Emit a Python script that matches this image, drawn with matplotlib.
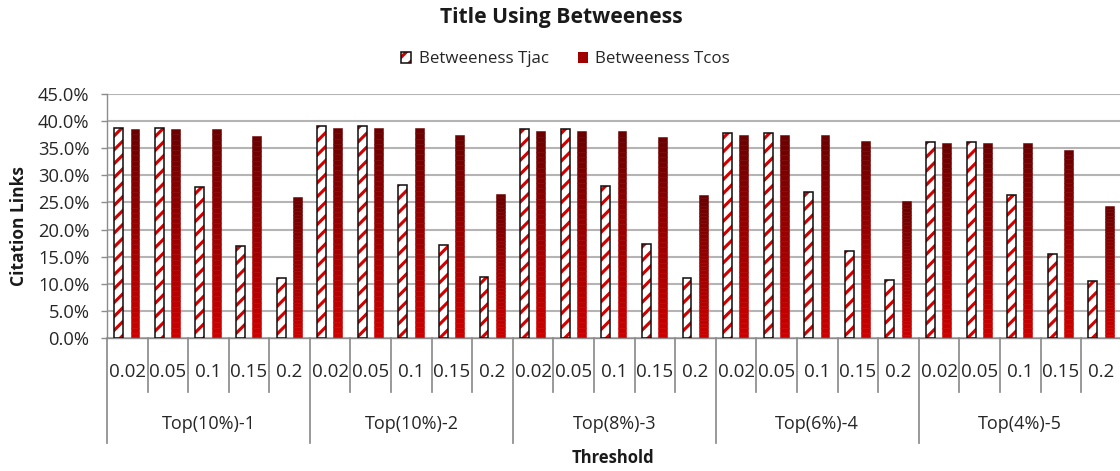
import numpy as np
import matplotlib
matplotlib.use("Agg")
import matplotlib.pyplot as plt
from matplotlib.colors import LinearSegmentedColormap
from matplotlib.patches import Patch
from matplotlib.legend_handler import HandlerTuple
from matplotlib.ticker import PercentFormatter

plt.rcParams['font.family'] = ['Open Sans', 'DejaVu Sans']
plt.rcParams['hatch.linewidth'] = 1.8

groups = ["Top(10%)-1", "Top(10%)-2", "Top(8%)-3", "Top(6%)-4", "Top(4%)-5"]
thresholds = ["0.02", "0.05", "0.1", "0.15", "0.2"]

# percent of citation links, one row per group, one column per threshold
tjac = [
    [38.7, 38.7, 27.9, 16.9, 11.1],
    [39.1, 39.1, 28.3, 17.2, 11.2],
    [38.5, 38.5, 28.1, 17.3, 11.1],
    [37.9, 37.9, 27.0, 16.0, 10.7],
    [36.1, 36.1, 26.4, 15.5, 10.6],
]
tcos = [
    [38.5, 38.5, 38.5, 37.3, 26.0],
    [38.7, 38.7, 38.7, 37.5, 26.6],
    [38.1, 38.1, 38.1, 37.1, 26.4],
    [37.5, 37.5, 37.5, 36.4, 25.2],
    [35.9, 35.9, 35.9, 34.7, 24.4],
]

jac_vals = np.array(tjac).ravel()
cos_vals = np.array(tcos).ravel()
n = len(jac_vals)
x = np.arange(n)

fig = plt.figure(figsize=(8.96, 3.768), dpi=125)
ax = fig.add_axes([0.0955, 0.2824, 0.906, 0.518])

w = 0.22
red = '#d40000'
# hatched Tjac bars: red stripes, black outline drawn on top
ax.bar(x + 0.29, jac_vals, w, color='white', edgecolor=red, hatch='///',
       linewidth=0, zorder=2)
ax.bar(x + 0.29, jac_vals, w, color='none', edgecolor='#111111',
       linewidth=0.9, zorder=3)

# Tcos bars: each bar is stacked from thin slices, dark at the top, bright at the base
cmap = LinearSegmentedColormap.from_list('tcos', ['#cc0000', '#6b0000'])
nseg = 40
for xi, v in zip(x + 0.69, cos_vals):
    edges = np.linspace(0, v, nseg + 1)
    cols = cmap(np.linspace(0, 1, nseg))
    ax.bar(np.full(nseg, xi), np.diff(edges), w, bottom=edges[:-1],
           color=cols, edgecolor=cols, linewidth=0.3, zorder=2)

ax.set_xlim(0, n)
ax.set_ylim(0, 45)
ax.set_yticks(np.arange(0, 46, 5))
ax.yaxis.set_major_formatter(PercentFormatter(decimals=1))
ax.set_xticks([])
ax.grid(axis='y', color='#b4b4b4', linewidth=1.2, zorder=0)
ax.set_axisbelow(True)
for s in ['top', 'right']:
    ax.spines[s].set_visible(False)
ax.spines['left'].set_color('#8c8c8c')
ax.spines['bottom'].set_color('#8c8c8c')
ax.tick_params(axis='y', length=3.6, color='#8c8c8c', labelsize=10.6,
               labelcolor='#262626', pad=6.5)

# two-level category axis below the plot
tr = ax.get_xaxis_transform()
for i in range(n + 1):
    low = -0.43 if i % 5 == 0 else -0.222
    ax.plot([i, i], [0, low], transform=tr, color='#8c8c8c', linewidth=1.0,
            clip_on=False)
for i in range(n):
    ax.text(i + 0.5, -0.138, thresholds[i % 5], transform=tr, ha='center',
            va='center', fontsize=10.8, color='#262626')
for g, name in enumerate(groups):
    ax.text(g * 5 + 2.5, -0.352, name, transform=tr, ha='center',
            va='center', fontsize=10.4, color='#262626')

fig.text(0.501, 0.962, "Title Using Betweeness", ha='center', va='center',
         fontsize=12.2, fontweight='bold', color='#1a1a1a')
fig.text(0.547, 0.027, "Threshold", ha='center', va='center',
         fontsize=9.6, fontweight='bold', color='#1a1a1a')
fig.text(0.017, 0.519, "Citation Links", ha='center', va='center',
         rotation=90, fontsize=10.0, fontweight='bold', color='#1a1a1a')

h_jac = (Patch(facecolor='white', edgecolor=red, hatch='///', linewidth=0),
         Patch(facecolor='none', edgecolor='#111111', linewidth=0.9))
h_cos = Patch(facecolor='#a00000', edgecolor='none')
fig.legend([h_jac, h_cos], ["Betweeness Tjac", "Betweeness Tcos"],
           handler_map={tuple: HandlerTuple(ndivide=1)},
           loc='center', bbox_to_anchor=(0.505, 0.874), ncol=2, frameon=False,
           fontsize=9.7, handlelength=0.6, handleheight=0.6,
           handletextpad=0.45, columnspacing=1.7, labelcolor='#262626')

fig.savefig("out.png", dpi=125)
